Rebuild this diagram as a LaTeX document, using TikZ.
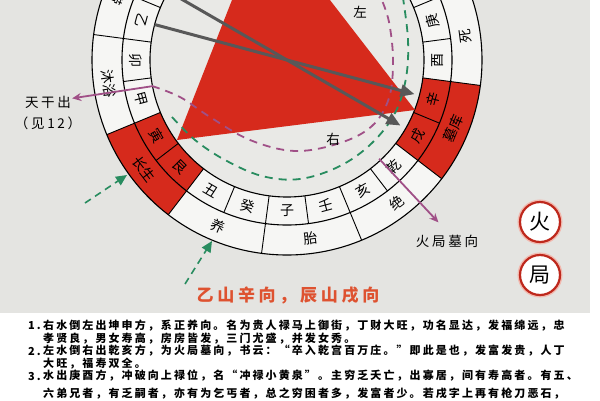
\documentclass[tikz,border=0pt]{standalone}
\usepackage{fontspec}
\setmainfont{Noto Sans CJK SC}
\newfontfamily\bodyfont[LetterSpace=19]{Noto Sans CJK SC}
\newfontfamily\headfont[LetterSpace=22]{Noto Sans CJK SC}
\newfontfamily\notefont[LetterSpace=20]{Noto Sans CJK SC}
\usetikzlibrary{arrows.meta}
\definecolor{panelgrey}{RGB}{228,228,225}
\definecolor{ringwhite}{RGB}{246,246,244}
\definecolor{hubgrey}{RGB}{233,233,230}
\definecolor{firered}{RGB}{214,42,28}
\definecolor{pointergrey}{RGB}{88,88,88}
\definecolor{dashgreen}{RGB}{40,140,95}
\definecolor{dashpink}{RGB}{160,80,135}
\definecolor{headred}{RGB}{222,82,48}
\definecolor{sealred}{RGB}{190,40,28}
\definecolor{sealpink}{RGB}{242,185,175}

\begin{document}
\begin{tikzpicture}[x=1pt, y=1pt,
				stem/.style={font=\fontsize{14}{14}\selectfont, inner sep=0pt},
				phase/.style={font=\fontsize{14}{14}\selectfont, inner sep=0pt},
				note/.style={font=\notefont\fontsize{13.5}{13.5}\selectfont, inner sep=1pt},
				seal/.style={circle, draw=sealred, line width=2.2pt, fill=white, minimum size=40pt, inner sep=0pt,
					font=\fontsize{21}{21}\selectfont, preaction={draw=sealpink, line width=5pt}},
				headline/.style={font=\headfont\bfseries\fontsize{17}{17}\selectfont, text=headred, inner sep=0pt},
				body/.style={font=\bodyfont\bfseries\fontsize{11}{11}\selectfont, anchor=west, inner sep=0pt},
				trail/.style={line width=1.8pt, dash pattern=on 8pt off 6pt},
				pinkarrow/.style={dashpink, line width=1.8pt, -{Stealth[length=9pt,width=8pt]}},
				greenarrow/.style={dashgreen, line width=1.6pt, dash pattern=on 7pt off 5pt, -{Triangle[length=11pt,width=10pt]}}
			]
			\useasboundingbox (0,0) rectangle (600,-400);
			\clip (0,0) rectangle (600,-400);
			\fill[white] (0,0) rectangle (600,-400);
			\fill[panelgrey] (0,0) rectangle (590,-313);
			% the wheel
			\begin{scope}[shift={(287,-60)}]
			\fill[ringwhite] (0,0) circle[radius=195];
			\fill[hubgrey] (0,0) circle[radius=137];
			\foreach \a in {210,225,330,345}
				\fill[firered] (\a-7.5:137) arc[start angle=\a-7.5, end angle=\a+7.5, radius=137]
					-- (\a+7.5:165) arc[start angle=\a+7.5, end angle=\a-7.5, radius=165] -- cycle;
			\foreach \a in {217.5,337.5}
				\fill[firered] (\a-15:165) arc[start angle=\a-15, end angle=\a+15, radius=165]
					-- (\a+15:195) arc[start angle=\a+15, end angle=\a-15, radius=195] -- cycle;
			\draw[line width=1.1pt] (0,0) circle[radius=137] (0,0) circle[radius=165] (0,0) circle[radius=195];
			\foreach \a in {22.5,52.5,...,352.5} \draw[line width=0.9pt] (\a:137) -- (\a:195);
			\foreach \a in {7.5,37.5,...,337.5} \draw[line width=0.9pt] (\a:137) -- (\a:165);
			\foreach \a/\t/\n in {270/子/zi, 255/癸/gui, 240/丑/chou, 225/艮/gen, 210/寅/yin, 195/甲/jia,
					180/卯/mao, 165/乙/yi, 285/壬/ren, 300/亥/hai, 315/乾/qian, 330/戌/xu, 345/辛/xin,
					360/酉/you, 375/庚/geng}
				\node[stem, rotate=\a+90] (\n) at (\a:151) {\t};
			\foreach \a/\t/\n in {187.5/沐浴/muyu, 157.5/冠带/guandai, 217.5/长生/changsheng, 247.5/养/yang,
					277.5/胎/tai, 307.5/绝/jue, 337.5/墓库/muku, 367.5/死/si}
				\node[phase, rotate=\a+90] (\n) at (\a:180) {\t};
			\coordinate (chen-foot) at (150:137);
			\coordinate (xu-tip) at (330:131);
			\coordinate (yi-foot) at (165:137);
			\coordinate (xin-tip) at (345:132);
			\coordinate (tg-foot) at (191:137);
			\coordinate (mx-foot) at (313:135);
			\coordinate (mx-tip) at (313:222);
			\end{scope}
			% fire frame
			\fill[firered] (265,84) -- (177,-140) -- (415,-110) -- cycle;
			\draw[trail, dashpink] plot[smooth, tension=0.6] coordinates {(152,-86) (180,-97) (210,-117) (250,-140)
				(295,-151) (340,-143) (372,-126) (389,-98) (393,-60) (389,-22) (381,2)};
			\draw[trail, dashgreen] plot[smooth, tension=0.6] coordinates {(172,-117) (195,-140) (225,-160) (262,-176)
				(300,-179) (340,-166) (372,-143) (395,-113) (406,-78) (408,-40) (403,2)};
			\begin{scope}[line width=3pt, pointergrey, -{Triangle[length=14pt,width=12pt]}]
			\draw (chen-foot) -- (xu-tip);
			\draw (yi-foot) -- (xin-tip);
			\end{scope}
			% notes
			\node[note] (zuo-mark) at (360,-12) {左};
			\node[note] (you-mark) at (333,-139) {右};
			\node[note] (tiangan) at (48,-102) {天干出};
			\node[note] (jian) at (48,-123) {（见12）};
			\node[note] (muxiang) at (447,-241) {火局墓向};
			\draw[pinkarrow] (tg-foot) -- (tiangan);
			\draw[pinkarrow] (mx-foot) -- (mx-tip);
			\coordinate (cs-tail) at (85,-203);
			\coordinate (cs-tip) at (127,-175);
			\coordinate (yang-tail) at (185,-284);
			\coordinate (yang-tip) at (212,-241);
			\draw[greenarrow] (cs-tail) -- (cs-tip);
			\draw[greenarrow] (yang-tail) -- (yang-tip);
			\node[seal] (huo) at (540,-222) {火};
			\node[seal] (ju) at (540,-275) {局};
			\node[headline] (shanxiang) at (288,-295) {乙山辛向，辰山戌向};
			% the three readings
			\node[body] (n1) at (28,-326) {1.};
			\node[body] (p1) at (43,-326) {右水倒左出坤申方，系正养向。名为贵人禄马上御街，丁财大旺，功名显达，发福绵远，忠};
			\node[body] (p1b) at (43,-338.5) {孝贤良，男女寿高，房房皆发，三门尤盛，并发女秀。};
			\node[body] (n2) at (28,-351) {2.};
			\node[body] (p2) at (43,-351) {左水倒右出乾亥方，为火局墓向，书云：“卒入乾宫百万庄。”即此是也，发富发贵，人丁};
			\node[body] (p2b) at (43,-363.5) {大旺，福寿双全。};
			\node[body] (n3) at (28,-376) {3.};
			\node[body] (p3) at (43,-376) {水出庚酉方，冲破向上禄位，名“冲禄小黄泉”。主穷乏夭亡，出寡居，间有寿高者。有五、};
			\node[body] (p3b) at (43,-394) {六弟兄者，有乏嗣者，亦有为乞丐者，总之穷困者多，发富者少。若戌字上再有枪刀恶石，};
			\end{tikzpicture}
\end{document}
